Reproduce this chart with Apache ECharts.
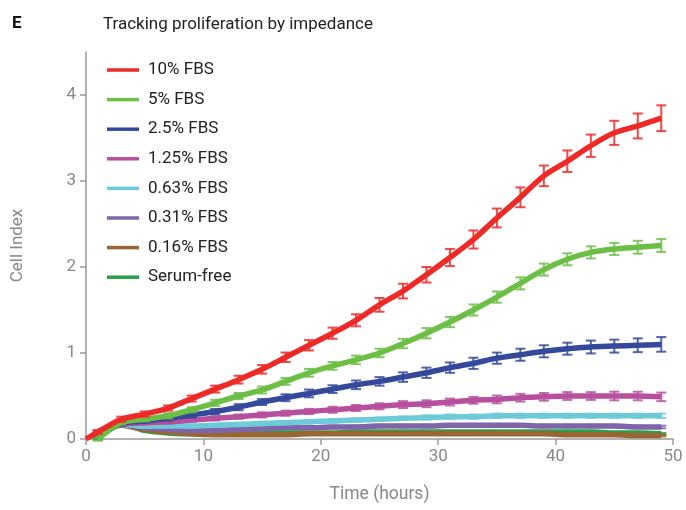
<!DOCTYPE html>
<html>
<head>
<meta charset="utf-8">
<script src="https://cdn.jsdelivr.net/npm/echarts@6/dist/echarts.min.js"></script>
<style>html,body{margin:0;padding:0;background:#fff}#c{width:686px;height:510px}</style>
</head>
<body>
<div id="c"></div>
<script>
var times = [0,1,3,5,7,9,11,13,15,17,19,21,23,25,27,29,31,33,35,37,39,41,43,45,47,49];
var seriesNames = ['10% FBS','5% FBS','2.5% FBS','1.25% FBS','0.63% FBS','0.31% FBS','0.16% FBS','Serum-free'];
var fbs10 = [0,0.08,0.23,0.29,0.36,0.47,0.58,0.69,0.81,0.95,1.09,1.23,1.38,1.56,1.72,1.91,2.11,2.32,2.57,2.81,3.06,3.23,3.41,3.56,3.64,3.73];
var fbs10Err = [null,0.02,0.03,0.03,0.03,0.035,0.04,0.045,0.05,0.055,0.06,0.065,0.07,0.08,0.085,0.09,0.1,0.105,0.11,0.115,0.12,0.125,0.13,0.14,0.145,0.15];
var fbs5 = [null,0.0,0.19,0.23,0.27,0.34,0.42,0.50,0.57,0.67,0.77,0.85,0.92,1.00,1.11,1.23,1.36,1.50,1.65,1.81,1.97,2.09,2.17,2.21,2.23,2.25];
var fbs5Err = [null,0.02,0.02,0.025,0.03,0.03,0.035,0.035,0.04,0.04,0.045,0.045,0.05,0.05,0.055,0.06,0.06,0.065,0.065,0.07,0.07,0.07,0.07,0.07,0.075,0.075];
var fbs2_5 = [null,0.05,0.18,0.21,0.24,0.28,0.32,0.37,0.43,0.48,0.53,0.58,0.63,0.67,0.72,0.77,0.83,0.88,0.94,0.98,1.02,1.05,1.07,1.08,1.09,1.10];
var fbs2_5Err = [null,0.02,0.02,0.02,0.025,0.03,0.03,0.035,0.035,0.04,0.045,0.045,0.05,0.05,0.055,0.06,0.06,0.065,0.065,0.07,0.07,0.07,0.075,0.075,0.08,0.085];
var fbs1_25 = [null,0.09,0.17,0.19,0.20,0.22,0.24,0.26,0.28,0.30,0.32,0.34,0.36,0.38,0.40,0.41,0.43,0.45,0.46,0.48,0.49,0.50,0.50,0.50,0.50,0.49];
var fbs1_25Err = [null,0.015,0.02,0.02,0.02,0.02,0.025,0.025,0.03,0.03,0.03,0.035,0.035,0.035,0.04,0.04,0.04,0.04,0.045,0.045,0.045,0.045,0.045,0.05,0.05,0.05];
var fbs0_63 = [null,0.06,0.17,0.15,0.15,0.15,0.16,0.17,0.18,0.19,0.20,0.21,0.22,0.23,0.24,0.25,0.26,0.26,0.27,0.27,0.27,0.27,0.27,0.27,0.27,0.27];
var fbs0_63Err = [null,0.01,0.015,0.015,0.015,0.015,0.015,0.02,0.02,0.02,0.02,0.02,0.02,0.02,0.02,0.025,0.025,0.025,0.025,0.025,0.025,0.025,0.025,0.025,0.025,0.025];
var fbs0_31 = [null,0.08,0.17,0.13,0.11,0.10,0.10,0.11,0.12,0.13,0.13,0.14,0.14,0.15,0.15,0.15,0.16,0.16,0.16,0.16,0.15,0.15,0.15,0.15,0.14,0.14];
var fbs0_31Err = [null,0.01,0.01,0.01,0.01,0.01,0.01,0.01,0.01,0.01,0.015,0.015,0.015,0.015,0.015,0.015,0.015,0.015,0.015,0.015,0.015,0.015,0.015,0.015,0.015,0.015];
var fbs0_16 = [null,0.04,0.16,0.11,0.08,0.06,0.05,0.05,0.05,0.05,0.06,0.06,0.06,0.06,0.06,0.06,0.06,0.06,0.06,0.06,0.06,0.05,0.05,0.05,0.04,0.04];
var fbs0_16Err = [null,0.01,0.01,0.01,0.01,0.01,0.01,0.01,0.01,0.01,0.01,0.01,0.01,0.01,0.01,0.01,0.01,0.01,0.01,0.01,0.01,0.01,0.01,0.01,0.01,0.01];
var serumFree = [null,0.0,0.17,0.10,0.07,0.06,0.06,0.06,0.07,0.07,0.07,0.07,0.08,0.08,0.08,0.08,0.08,0.08,0.08,0.08,0.08,0.08,0.08,0.07,0.07,0.06];
var serumFreeErr = [null,0.01,0.01,0.01,0.01,0.01,0.01,0.01,0.01,0.01,0.01,0.01,0.01,0.01,0.01,0.01,0.01,0.01,0.01,0.01,0.01,0.01,0.01,0.01,0.01,0.01];
var xTicks = [0,10,20,30,40,50];
var yTicks = [0,1,2,3,4];

var values = [fbs10,fbs5,fbs2_5,fbs1_25,fbs0_63,fbs0_31,fbs0_16,serumFree];
var errors = [fbs10Err,fbs5Err,fbs2_5Err,fbs1_25Err,fbs0_63Err,fbs0_31Err,fbs0_16Err,serumFreeErr];
var colors = ['#ee2a27','#6cbf45','#34499b','#b6509e','#6ccad9','#8064a9','#99662f','#23a24b'];

var series = [];
values.forEach(function(v, i){
  var pts = [];
  for (var k = 0; k < times.length; k++) if (v[k] !== null) pts.push([times[k], v[k]]);
  series.push({
    name: seriesNames[i], type: 'line', data: pts, smooth: 0.3, showSymbol: false,
    lineStyle: {color: colors[i], width: 5.5}, itemStyle: {color: colors[i]},
    z: 30 - i * 2, clip: false
  });
});
values.forEach(function(v, i){
  var pts = [];
  for (var k = 0; k < times.length; k++) if (v[k] !== null && errors[i][k] !== null) pts.push([times[k], v[k] - errors[i][k], v[k] + errors[i][k]]);
  series.push({
    name: seriesNames[i], type: 'custom', data: pts, z: 29 - i * 2, clip: false,
    renderItem: function(params, api){
      var lo = api.coord([api.value(0), api.value(1)]);
      var hi = api.coord([api.value(0), api.value(2)]);
      var hw = 5;
      var st = {stroke: colors[i], lineWidth: 2, opacity: 0.85};
      return {type: 'group', children: [
        {type: 'line', shape: {x1: lo[0], y1: lo[1], x2: hi[0], y2: hi[1]}, style: st},
        {type: 'line', shape: {x1: lo[0]-hw, y1: lo[1], x2: lo[0]+hw, y2: lo[1]}, style: st},
        {type: 'line', shape: {x1: hi[0]-hw, y1: hi[1], x2: hi[0]+hw, y2: hi[1]}, style: st}
      ]};
    },
    encode: {x: 0, y: [1, 2]}
  });
});

var chart = echarts.init(document.getElementById('c'));
chart.setOption({
  animation: false,
  textStyle: {fontFamily: 'Roboto'},
  title: [
    {text: 'E', left: 7, top: 10, textStyle: {fontFamily: 'Roboto', fontSize: 17, fontWeight: 'bold', color: '#111'}},
    {text: 'Tracking proliferation by impedance', left: 98, top: 11, textStyle: {fontFamily: 'Roboto', fontSize: 17, fontWeight: 'normal', color: '#222'}}
  ],
  legend: {
    data: seriesNames, orient: 'vertical', left: 102, top: 55, icon: 'rect',
    itemWidth: 32, itemHeight: 3.5, itemGap: 9.6,
    textStyle: {fontFamily: 'Roboto', fontSize: 17, lineHeight: 20, color: '#222', padding: [0,0,0,4]}
  },
  grid: {left: 86, right: 13, top: 52, bottom: 71},
  xAxis: {
    type: 'value', min: 0, max: 50, interval: 10,
    name: 'Time (hours)', nameLocation: 'middle', nameGap: 47,
    nameTextStyle: {fontSize: 17.5, color: '#888', fontFamily: 'Roboto'},
    axisLine: {lineStyle: {color: '#9a9a9a', width: 1.5}},
    axisTick: {length: 6, lineStyle: {color: '#9a9a9a', width: 1.5}, customValues: xTicks},
    axisLabel: {fontSize: 17, color: '#888', margin: 9, customValues: xTicks},
    splitLine: {show: false}
  },
  yAxis: {
    type: 'value', min: 0, max: 4.5, interval: 1,
    name: 'Cell Index', nameLocation: 'middle', nameGap: 60,
    nameTextStyle: {fontSize: 17, color: '#888', fontFamily: 'Roboto'},
    axisLine: {show: true, lineStyle: {color: '#9a9a9a', width: 1.5}},
    axisTick: {show: true, length: 6, lineStyle: {color: '#9a9a9a', width: 1.5}, customValues: yTicks},
    axisLabel: {fontSize: 17, color: '#888', margin: 10, customValues: yTicks},
    splitLine: {show: false}
  },
  series: series
});
</script>
</body>
</html>
